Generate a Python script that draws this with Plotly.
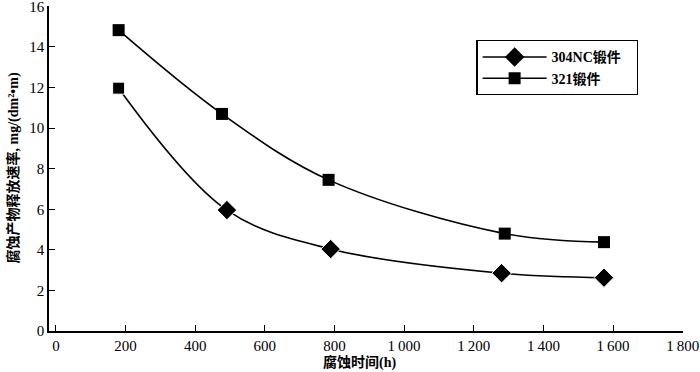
import plotly.graph_objects as go

# Data
t_304 = [180, 491, 789, 1280, 1574]
r_304 = [11.97, 5.96, 4.04, 2.85, 2.63]
sym_304 = ["square", "diamond", "diamond", "diamond", "diamond"]
size_304 = [12, 15, 15, 15, 15]

t_321 = [180, 477, 783, 1289, 1574]
r_321 = [14.83, 10.7, 7.45, 4.8, 4.38]

x_ticks = [0, 200, 400, 600, 800, 1000, 1200, 1400, 1600, 1800]
x_ticktext = ["0", "200", "400", "600", "800", "1\u2009000", "1\u2009200",
              "1\u2009400", "1\u2009600", "1\u2009800"]
y_ticks = [0, 2, 4, 6, 8, 10, 12, 14, 16]

name_304 = "<b>304NC锻件</b>\u00a0\u00a0\u00a0"
name_321 = "<b>321锻件</b>"
x_title = "<b>腐蚀时间(h)</b>"
y_title = "<b>腐蚀产物释放速率, mg/(dm²•m)</b>"

FONT = "Liberation Serif, Noto Sans CJK SC, serif"

fig = go.Figure()

fig.add_trace(go.Scatter(
    x=t_304, y=r_304, mode="lines+markers", showlegend=False,
    line=dict(color="black", width=1.6, shape="spline", smoothing=1.0),
    marker=dict(symbol=sym_304, size=size_304, color="black", opacity=1),
))
fig.add_trace(go.Scatter(
    x=t_321, y=r_321, mode="lines+markers", showlegend=False,
    line=dict(color="black", width=1.6, shape="spline", smoothing=1.0),
    marker=dict(symbol="square", size=12, color="black", opacity=1),
))
# legend entries
fig.add_trace(go.Scatter(
    x=[None], y=[None], mode="lines+markers", name=name_304,
    line=dict(color="black", width=1.6),
    marker=dict(symbol="diamond", size=15, color="black"),
))
fig.add_trace(go.Scatter(
    x=[None], y=[None], mode="lines+markers", name=name_321,
    line=dict(color="black", width=1.6),
    marker=dict(symbol="square", size=12, color="black"),
))

fig.update_layout(
    width=700, height=372,
    margin=dict(l=49, r=17, t=6, b=41, autoexpand=False),
    paper_bgcolor="white", plot_bgcolor="white",
    font=dict(family=FONT, color="black", size=14),
    legend=dict(
        x=0.674, y=0.895, xanchor="left", yanchor="top",
        bordercolor="black", borderwidth=1.3, bgcolor="white",
        font=dict(family=FONT, size=14, color="black"),
        itemwidth=64, tracegroupgap=0,
    ),
    xaxis=dict(
        range=[-20, 1801], tickvals=x_ticks, ticktext=x_ticktext,
        ticks="inside", ticklen=6, tickwidth=1.2, tickcolor="black",
        showline=True, linecolor="black", linewidth=1.5,
        showgrid=False, zeroline=False, automargin=False,
        ticklabeloverflow="allow",
        tickfont=dict(family=FONT, size=15, color="black"),
    ),
    yaxis=dict(
        range=[0, 16.02], tickvals=y_ticks,
        ticks="inside", ticklen=6, tickwidth=1.2, tickcolor="black",
        showline=True, linecolor="black", linewidth=1.5,
        showgrid=False, zeroline=False, automargin=False,
        ticklabeloverflow="allow",
        tickfont=dict(family=FONT, size=15, color="black"),
    ),
    annotations=[
        dict(text=x_title, xref="paper", yref="paper", x=0.49, y=0.0,
             yshift=-31, xanchor="center", yanchor="middle", showarrow=False,
             font=dict(family=FONT, size=14, color="black")),
        dict(text=y_title, xref="paper", yref="paper", x=0.0, y=0.50,
             xshift=-36, xanchor="center", yanchor="middle", showarrow=False,
             textangle=-90, font=dict(family=FONT, size=14, color="black")),
    ],
)

fig.write_html("out.html", config={"displayModeBar": False},
               post_script="document.body.style.margin='0px';")
